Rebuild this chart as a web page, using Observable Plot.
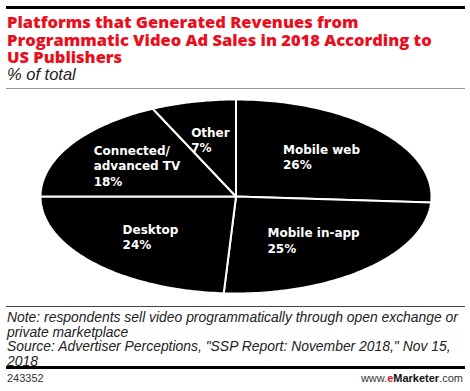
<!DOCTYPE html>
<html>
<head>
<meta charset="utf-8">
<script src="https://cdn.jsdelivr.net/npm/d3@7"></script>
<script src="https://cdn.jsdelivr.net/npm/@observablehq/plot@0.6"></script>
<style>
  body { margin: 0; background: #fff; width: 470px; height: 391px; position: relative; overflow: hidden; }
  .abs { position: absolute; }
  .rule { position: absolute; left: 6px; width: 459px; }
  .tl { position: absolute; left: 7px; font-family: "Open Sans", sans-serif; font-weight: 800; font-size: 16.5px; line-height: 16px; height: 16px; color: #e8101e; white-space: nowrap; }
  #subtitle { left: 7px; top: 66px; font-family: "Liberation Sans", Arial, sans-serif; font-style: italic; font-size: 16.5px; line-height: 17px; color: #222; }
  #chart { left: 0; top: 90px; }
  .nl { position: absolute; left: 7px; font-family: "Liberation Sans", Arial, sans-serif; font-style: italic; font-size: 13.9px; line-height: 14px; height: 14px; color: #222; white-space: nowrap; }
  #id { left: 7px; top: 372px; font-family: "Liberation Sans", Arial, sans-serif; font-size: 11px; line-height: 12px; color: #333; }
  #brand { right: 7px; top: 372px; font-family: "Liberation Sans", Arial, sans-serif; font-size: 11px; line-height: 12px; color: #333; }
  #brand b { color: #111; }
  #brand .e { color: #e8101e; }
</style>
</head>
<body>
<div class="rule" style="top:6px;height:3px;background:#000"></div>
<div class="tl" style="top:14px">Platforms that Generated Revenues from</div>
<div class="tl" style="top:31.5px">Programmatic Video Ad Sales in 2018 According to</div>
<div class="tl" style="top:49px">US Publishers</div>
<div id="subtitle" class="abs">% of total</div>
<div class="rule" style="top:88px;height:1px;background:#999"></div>
<div id="chart" class="abs"></div>
<div class="rule" style="top:306px;height:1px;background:#444"></div>
<div class="nl" style="top:310px">Note: respondents sell video programmatically through open exchange or</div>
<div class="nl" style="top:324.5px">private marketplace</div>
<div class="nl" style="top:339px">Source: Advertiser Perceptions, "SSP Report: November 2018," Nov 15,</div>
<div class="nl" style="top:353.5px">2018</div>
<div class="rule" style="top:366px;height:3px;background:#000"></div>
<div id="id" class="abs">243352</div>
<div id="brand" class="abs">www.<b class="e">e</b><b>Marketer</b>.com</div>
<script>
const categories = ["Mobile web", "Mobile in-app", "Desktop", "Connected/\nadvanced TV", "Other"];
const values = [26, 25, 24, 18, 7];

const total = d3.sum(values);
const slices = [];
let acc = 0;
categories.forEach((name, i) => {
  const a0 = acc / total * 2 * Math.PI;
  acc += values[i];
  const a1 = acc / total * 2 * Math.PI;
  slices.push({name, value: values[i], a0, a1});
});

// polygon points for each slice (unit circle, clockwise from top)
const pts = [];
slices.forEach(s => {
  pts.push({name: s.name, x: 0, y: 0});
  const n = Math.max(2, Math.ceil((s.a1 - s.a0) / (Math.PI / 180)));
  for (let k = 0; k <= n; k++) {
    const a = s.a0 + (s.a1 - s.a0) * k / n;
    pts.push({name: s.name, x: Math.sin(a), y: Math.cos(a)});
  }
});

const xRange = [40, 431];
const pxPerUnit = (xRange[1] - xRange[0]) / 2;
const labelFont = "bold 12px 'DejaVu Sans'";
const ctx = document.createElement("canvas").getContext("2d");
ctx.font = labelFont;
const labels = slices.map(s => {
  const m = (s.a0 + s.a1) / 2;
  const text = `${s.name}\n${s.value}%`;
  const w = d3.max(text.split("\n"), t => ctx.measureText(t).width);
  const r = 0.6;
  return {text, x: r * Math.sin(m) - (w / 2) / pxPerUnit, y: r * Math.cos(m)};
});

const plot = Plot.plot({
  width: 470,
  height: 215,
  margin: 0,
  x: {domain: [-1, 1], range: xRange, axis: null},
  y: {domain: [-1, 1], range: [203, 9], axis: null},
  marks: [
    Plot.line(pts, {x: "x", y: "y", z: "name", fill: "black", stroke: "white", strokeWidth: 2, curve: "linear-closed"}),
    Plot.text(labels, {x: "x", y: "y", text: "text", fill: "white", fontFamily: "DejaVu Sans", fontWeight: "bold", fontSize: 12, textAnchor: "start", lineAnchor: "middle", lineHeight: 1.3})
  ]
});
document.getElementById("chart").appendChild(plot);
</script>
</body>
</html>
